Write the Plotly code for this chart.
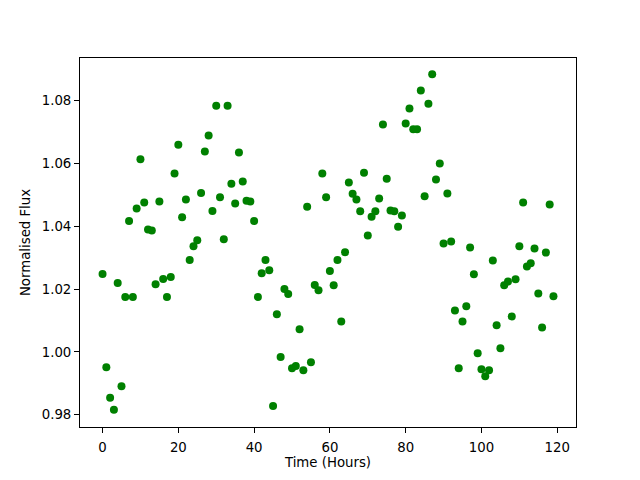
import plotly.graph_objects as go

time_hours = [
    0, 1, 2, 3, 4, 5, 6, 7, 8, 9, 10, 11, 12, 13, 14, 15, 16, 17, 18, 19,
    20, 21, 22, 23, 24, 25, 26, 27, 28, 29, 30, 31, 32, 33, 34, 35, 36, 37, 38, 39,
    40, 41, 42, 43, 44, 45, 46, 47, 48, 49, 50, 51, 52, 53, 54, 55, 56, 57, 58, 59,
    60, 61, 62, 63, 64, 65, 66, 67, 68, 69, 70, 71, 72, 73, 74, 75, 76, 77, 78, 79,
    80, 81, 82, 83, 84, 85, 86, 87, 88, 89, 90, 91, 92, 93, 94, 95, 96, 97, 98, 99,
    100, 101, 102, 103, 104, 105, 106, 107, 108, 109, 110, 111, 112, 113, 114, 115, 116, 117, 118, 119,
]

normalised_flux = [
    1.0248, 0.9951, 0.9854, 0.9816, 1.0219, 0.9891, 1.0175, 1.0416, 1.0175, 1.0456,
    1.0613, 1.0475, 1.0389, 1.0386, 1.0215, 1.0478, 1.0232, 1.0175, 1.0238, 1.0567,
    1.0659, 1.0428, 1.0485, 1.0292, 1.0336, 1.0355, 1.0505, 1.0637, 1.0688, 1.0448,
    1.0783, 1.0492, 1.0358, 1.0783, 1.0535, 1.0472, 1.0634, 1.0542, 1.0481, 1.0478,
    1.0416, 1.0175, 1.0250, 1.0292, 1.0260, 0.9828, 1.0120, 0.9984, 1.0200, 1.0184,
    0.9948, 0.9955, 1.0072, 0.9942, 1.0462, 0.9967, 1.0213, 1.0196, 1.0567, 1.0492,
    1.0257, 1.0212, 1.0292, 1.0097, 1.0317, 1.0539, 1.0503, 1.0485, 1.0447, 1.0570,
    1.0370, 1.0430, 1.0447, 1.0488, 1.0723, 1.0551, 1.0450, 1.0447, 1.0398, 1.0434,
    1.0726, 1.0774, 1.0708, 1.0708, 1.0831, 1.0495, 1.0789, 1.0883, 1.0548, 1.0599,
    1.0345, 1.0504, 1.0351, 1.0132, 0.9948, 1.0097, 1.0145, 1.0332, 1.0247, 0.9996,
    0.9945, 0.9923, 0.9942, 1.0291, 1.0085, 1.0012, 1.0212, 1.0224, 1.0113, 1.0231,
    1.0336, 1.0475, 1.0272, 1.0282, 1.0329, 1.0186, 1.0078, 1.0316, 1.0469, 1.0177,
]

x_ticks = [0, 20, 40, 60, 80, 100, 120]
y_ticks = [0.98, 1.00, 1.02, 1.04, 1.06, 1.08]

fig = go.Figure()
fig.add_trace(go.Scatter(
    x=time_hours, y=normalised_flux, mode="markers",
    marker=dict(color="#008000", size=8, line=dict(width=0)),
    showlegend=False,
))

axis_common = dict(
    showline=True, linecolor="black", linewidth=1, mirror=True,
    ticks="outside", ticklen=5, tickwidth=1, tickcolor="black",
    showgrid=False, zeroline=False, automargin=False,
    tickfont=dict(family="DejaVu Sans", size=13.3, color="black"),
)

fig.update_layout(
    width=632, height=472,
    margin=dict(l=72, r=64, t=50, b=53),
    paper_bgcolor="white", plot_bgcolor="white",
    font=dict(family="DejaVu Sans", size=13.3, color="black"),
    xaxis=dict(
        range=[-5.95, 124.95], tickvals=x_ticks,
        ticktext=[str(t) for t in x_ticks],
        ticklabelstandoff=3,
        title=dict(text="Time (Hours)", standoff=3,
                   font=dict(family="DejaVu Sans", size=13.3, color="black")),
        **axis_common,
    ),
    yaxis=dict(
        range=[0.97613, 1.09346], tickvals=y_ticks,
        ticktext=[f"{t:.2f}" for t in y_ticks],
        title=dict(text="Normalised Flux", standoff=8,
                   font=dict(family="DejaVu Sans", size=13.3, color="black")),
        **axis_common,
    ),
)

fig.write_html("out.html")
